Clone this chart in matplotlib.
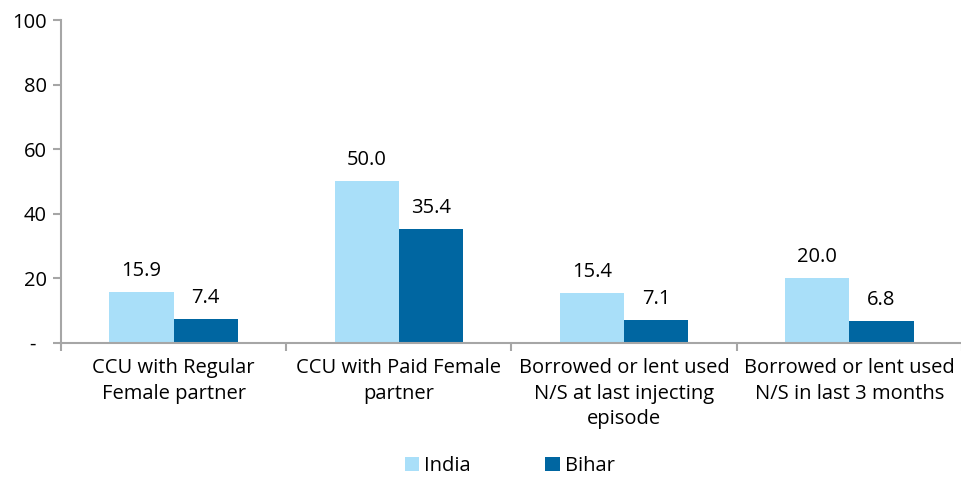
import numpy as np
import matplotlib.pyplot as plt

categories = ['CCU with Regular\nFemale partner',
              'CCU with Paid Female\npartner',
              'Borrowed or lent used\nN/S at last injecting\nepisode',
              'Borrowed or lent used\nN/S in last 3 months']
india = [15.9, 50.0, 15.4, 20.0]
bihar = [7.4, 35.4, 7.1, 6.8]
yticks = [0, 20, 40, 60, 80, 100]
ytick_labels = ['-  ', '20', '40', '60', '80', '100']

plt.rcParams['font.family'] = ['Open Sans', 'DejaVu Sans']
c_india, c_bihar, c_axis = '#a9dff9', '#0066a1', '#a6a6a6'
fs = 14.5

fig = plt.figure(figsize=(9.62, 4.82), dpi=100)
ax = fig.add_axes([0.0634, 0.2884, 0.9366, 0.6701])

x = np.arange(len(categories))
w = 0.285
b1 = ax.bar(x - w/2, india, w, color=c_india, label='India')
b2 = ax.bar(x + w/2, bihar, w, color=c_bihar, label='Bihar')
for bars in (b1, b2):
    for r in bars:
        ax.annotate(f'{r.get_height():.1f}', (r.get_x() + r.get_width()/2, r.get_height()),
                    xytext=(0, 8), textcoords='offset points',
                    ha='center', va='bottom', fontsize=fs)

ax.set_xlim(-0.5, len(categories) - 0.5)
ax.set_ylim(0, 100)
ax.set_yticks(yticks)
ax.set_yticklabels(ytick_labels, fontsize=fs)
ax.set_xticks(np.arange(len(categories) + 1) - 0.5)
ax.set_xticklabels([])
ax.set_xticks(x, minor=True)
ax.set_xticklabels(categories, minor=True, fontsize=fs, linespacing=1.35)
ax.tick_params(axis='x', which='minor', length=0, pad=11)
ax.tick_params(axis='x', which='major', length=6, color=c_axis, width=1.5)
ax.tick_params(axis='y', length=6, color=c_axis, width=1.5, pad=4)

for s in ('top', 'right'):
    ax.spines[s].set_visible(False)
for s in ('left', 'bottom'):
    ax.spines[s].set_color(c_axis)
    ax.spines[s].set_linewidth(1.5)
ax.spines['left'].set_zorder(0)

fig.legend(handles=[b1, b2], loc='center', bbox_to_anchor=(0.53, 0.033), ncol=2,
           frameon=False, fontsize=fs, handlelength=0.7, handleheight=0.7,
           columnspacing=3.7, handletextpad=0.25)

fig.savefig('out.png', dpi=100)
